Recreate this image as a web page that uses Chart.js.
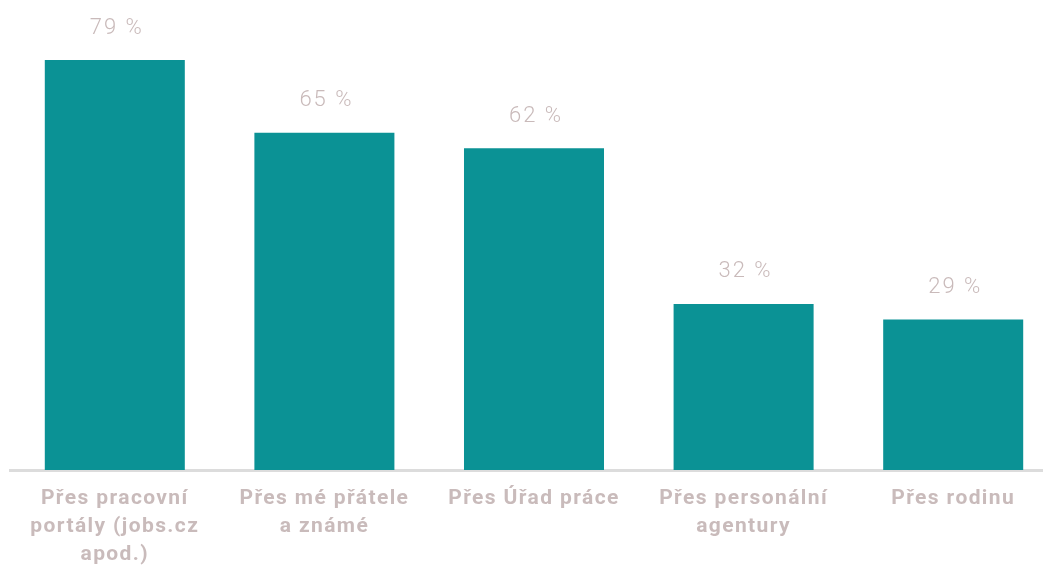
<!DOCTYPE html>
<html>
<head>
<meta charset="utf-8">
<script src="https://cdn.jsdelivr.net/npm/chart.js@4.4.1/dist/chart.umd.min.js"></script>
<style>
  html, body { margin: 0; padding: 0; background: #ffffff; overflow: hidden; }
  #wrap { width: 1058px; height: 567px; position: relative; }
</style>
</head>
<body>
<div id="wrap"><canvas id="c"></canvas></div>
<script>
const categories = [
  ["Přes pracovní", "portály (jobs.cz", "apod.)"],
  ["Přes mé přátele", "a známé"],
  ["Přes Úřad práce"],
  ["Přes personální", "agentury"],
  ["Přes rodinu"]
];
const values = [79, 65, 62, 32, 29];
const valueSuffix = " %";

const barColor = "#0b9295";
const labelColor = "#c9bbbb";

const spacing = {
  id: "spacing",
  beforeDraw(chart) { chart.ctx.letterSpacing = "1.4px"; }
};

const valueLabels = {
  id: "valueLabels",
  afterDatasetsDraw(chart) {
    const ctx = chart.ctx;
    const meta = chart.getDatasetMeta(0);
    ctx.save();
    ctx.font = "300 22px Roboto";
    ctx.letterSpacing = "2px";
    ctx.fillStyle = "#c9baba";
    ctx.textAlign = "center";
    ctx.textBaseline = "middle";
    meta.data.forEach((bar, i) => {
      ctx.fillText(values[i] + valueSuffix, bar.x + 2, bar.y - 32);
    });
    ctx.restore();
  }
};

new Chart(document.getElementById("c"), {
  type: "bar",
  data: {
    labels: categories,
    datasets: [{
      data: values,
      backgroundColor: barColor,
      borderWidth: 0,
      categoryPercentage: 0.668,
      barPercentage: 1
    }]
  },
  options: {
    responsive: true,
    maintainAspectRatio: false,
    animation: false,
    layout: { padding: { top: 3, left: 10, right: 0, bottom: 0 } },
    plugins: { legend: { display: false }, tooltip: { enabled: false } },
    scales: {
      x: {
        grid: { display: false, drawTicks: false },
        border: { display: true, color: "#dcdcdc", width: 3 },
        ticks: {
          color: labelColor,
          font: { family: "Roboto", size: 21, weight: "bold", lineHeight: 1.33 },
          padding: 15,
          maxRotation: 0,
          autoSkip: false
        },
        afterFit(scale) { scale.height = 97; }
      },
      y: {
        display: false,
        min: 0,
        max: 90
      }
    }
  },
  plugins: [spacing, valueLabels]
});
</script>
</body>
</html>
